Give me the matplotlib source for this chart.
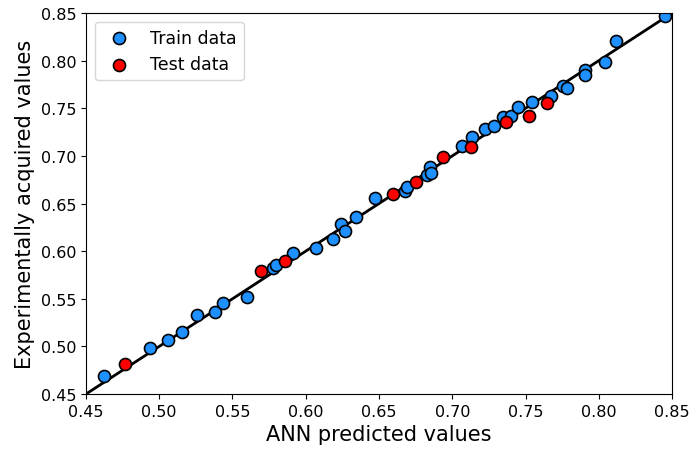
import numpy as np
import matplotlib.pyplot as plt

# ANN predictions vs measured values
train_pred = [0.4625, 0.4937, 0.5062, 0.5158, 0.526, 0.538, 0.5433, 0.5597, 0.5774,
              0.5797, 0.5915, 0.607, 0.6184, 0.6238, 0.6268, 0.6343, 0.6473, 0.6678,
              0.6689, 0.6825, 0.6848, 0.6855, 0.7064, 0.7137, 0.7224, 0.7285, 0.7349,
              0.7399, 0.7451, 0.7547, 0.7674, 0.7758, 0.7786, 0.7906, 0.7908, 0.8043,
              0.8116, 0.8452]
train_exp = [0.469, 0.498, 0.5067, 0.5154, 0.5333, 0.5358, 0.5455, 0.5522, 0.5823,
             0.5854, 0.5977, 0.6033, 0.6127, 0.6285, 0.6208, 0.6355, 0.6555, 0.6634,
             0.6676, 0.6799, 0.688, 0.682, 0.7107, 0.7195, 0.7282, 0.7317, 0.7405,
             0.7422, 0.7517, 0.7562, 0.7632, 0.7737, 0.7709, 0.7902, 0.7849, 0.7989,
             0.8209, 0.8472]

test_pred = [0.4766, 0.5692, 0.5856, 0.6598, 0.6753, 0.6939, 0.7126, 0.7365, 0.7526, 0.7645]
test_exp = [0.4815, 0.5791, 0.5893, 0.660, 0.6722, 0.6985, 0.7096, 0.7359, 0.7422, 0.7555]

lims = [0.45, 0.85]

fig = plt.figure(figsize=(6.9, 4.52), dpi=100)
ax = fig.add_axes([0.1246, 0.126, 0.8494, 0.843])

ax.plot(lims, lims, color='black', linewidth=2, zorder=1)
ax.scatter(train_pred, train_exp, s=75, c='#1E90FF', edgecolors='black',
           linewidths=1.2, label='Train data', zorder=2)
ax.scatter(test_pred, test_exp, s=75, c='red', edgecolors='black',
           linewidths=1.2, label='Test data', zorder=3)

ax.set_xlim(lims)
ax.set_ylim(lims)
ax.set_xticks(np.arange(0.45, 0.851, 0.05))
ax.set_yticks(np.arange(0.45, 0.851, 0.05))
ax.tick_params(labelsize=11.5)
ax.set_xlabel('ANN predicted values', fontsize=15)
ax.set_ylabel('Experimentally acquired values', fontsize=15)
ax.legend(loc='upper left', fontsize=12.5)

plt.savefig('out.png', dpi=100)
plt.close()
